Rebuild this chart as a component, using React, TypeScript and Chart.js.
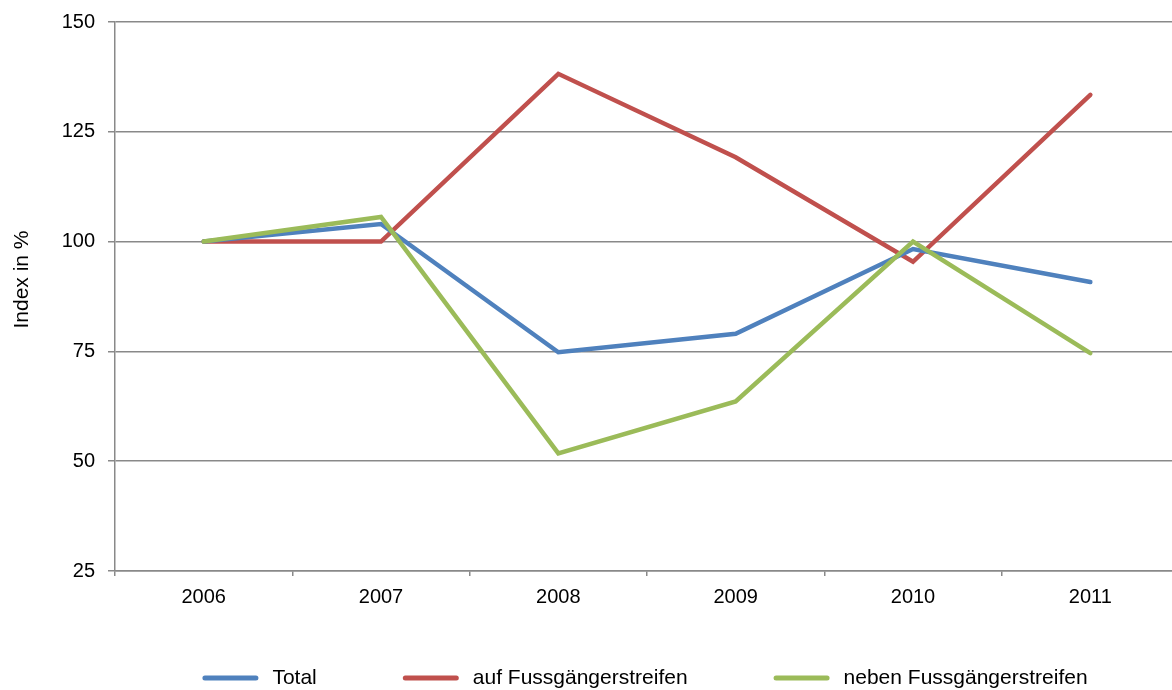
import React, { useEffect, useRef } from 'react';
import { Chart, registerables } from 'chart.js';

Chart.register(...registerables);

const years = ['2006', '2007', '2008', '2009', '2010', '2011'];
const total = [100, 104.0, 74.8, 79.0, 98.3, 90.8];
const aufFussgaengerstreifen = [100, 100, 138.2, 119.2, 95.4, 133.4];
const nebenFussgaengerstreifen = [100, 105.6, 51.8, 63.6, 100.0, 74.6];
const seriesLabels = ['Total', 'auf Fussgängerstreifen', 'neben Fussgängerstreifen'];
const yTitle = 'Index in %';

const COLORS = ['#4F81BD', '#C0504D', '#9BBB59'];
const GRID = '#898989';
const FONT_FAMILY = '"Liberation Sans", Arial, sans-serif';
const FONT_SIZE = 20;
const LEGEND_FONT_SIZE = 21;

const overlayPlugin = {
  id: 'overlay',
  afterDraw(chart: any) {
    const ctx = chart.ctx as CanvasRenderingContext2D;
    const area = chart.chartArea;
    ctx.save();
    ctx.font = `${LEGEND_FONT_SIZE}px ${FONT_FAMILY}`;
    ctx.fillStyle = '#000';
    // y-axis title
    ctx.save();
    ctx.translate(22, (area.top + area.bottom) / 2 - 17);
    ctx.rotate(-Math.PI / 2);
    ctx.textAlign = 'center';
    ctx.textBaseline = 'middle';
    ctx.fillText(yTitle, 0, 0);
    ctx.restore();

    // legend
    const markerW = 56;
    const markerGap = 14;
    const itemGap = 86;
    const datasets = chart.data.datasets;
    const widths = datasets.map((d: any) => markerW + markerGap + ctx.measureText(d.label).width);
    const totalW = widths.reduce((a: number, b: number) => a + b, 0) + itemGap * (datasets.length - 1);
    let x = (area.left + area.right) / 2 - 2 - totalW / 2;
    const y = 678;
    ctx.textAlign = 'left';
    ctx.textBaseline = 'middle';
    datasets.forEach((d: any, i: number) => {
      ctx.strokeStyle = d.borderColor;
      ctx.lineWidth = 5;
      ctx.lineCap = 'round';
      ctx.beginPath();
      ctx.moveTo(x + 2.5, y);
      ctx.lineTo(x + markerW - 2.5, y);
      ctx.stroke();
      ctx.fillStyle = '#000';
      ctx.fillText(d.label, x + markerW + markerGap, y);
      x += widths[i] + itemGap;
    });
    ctx.restore();
  },
};

export default function App() {
  const ref = useRef<HTMLCanvasElement>(null);
  useEffect(() => {
    const canvas = ref.current!;
    const font = { family: FONT_FAMILY, size: FONT_SIZE };
    const mk = (label: string, data: number[], color: string, order: number) => ({
      label,
      data,
      borderColor: color,
      backgroundColor: color,
      borderWidth: 4.5,
      pointRadius: 0,
      pointHoverRadius: 0,
      tension: 0,
      borderCapStyle: 'round' as const,
      borderJoinStyle: 'miter' as const,
      fill: false,
      order,
    });
    const chart = new Chart(canvas, {
      type: 'line',
      data: {
        labels: years,
        datasets: [
          mk(seriesLabels[0], total, COLORS[0], 1),
          mk(seriesLabels[1], aufFussgaengerstreifen, COLORS[1], 2),
          mk(seriesLabels[2], nebenFussgaengerstreifen, COLORS[2], 0),
        ],
      },
      options: {
        responsive: false,
        animation: false,
        devicePixelRatio: 1,
        layout: { padding: { top: 22, right: 1, left: 0, bottom: 0 } },
        plugins: {
          legend: { display: false },
          tooltip: { enabled: false },
        },
        scales: {
          x: {
            offset: true,
            grid: {
              offset: true,
              drawOnChartArea: false,
              drawTicks: true,
              tickLength: 5,
              color: GRID,
              lineWidth: 1.5,
            },
            border: { display: true, color: GRID, width: 1.5 },
            ticks: { font, color: '#000', padding: 9, maxRotation: 0 },
            afterFit: (s: any) => {
              s.height = 119;
              s.paddingLeft = 0;
              s.paddingRight = 0;
            },
          },
          y: {
            min: 25,
            max: 150,
            ticks: { stepSize: 25, font, color: '#000', padding: 13 },
            grid: { color: GRID, lineWidth: 1.5, tickLength: 7 },
            border: { display: true, color: GRID, width: 1.5 },
            afterFit: (s: any) => {
              s.width = 115;
              s.paddingTop = 0;
              s.paddingBottom = 0;
            },
          },
        },
      },
      plugins: [overlayPlugin],
    });
    return () => chart.destroy();
  }, []);
  return (
    <div
      style={{
        position: 'absolute',
        left: 0,
        top: 0,
        width: 1172,
        height: 690,
        overflow: 'hidden',
        background: '#fff',
      }}
    >
      <canvas ref={ref} width={1180} height={690} style={{ display: 'block' }} />
    </div>
  );
}
